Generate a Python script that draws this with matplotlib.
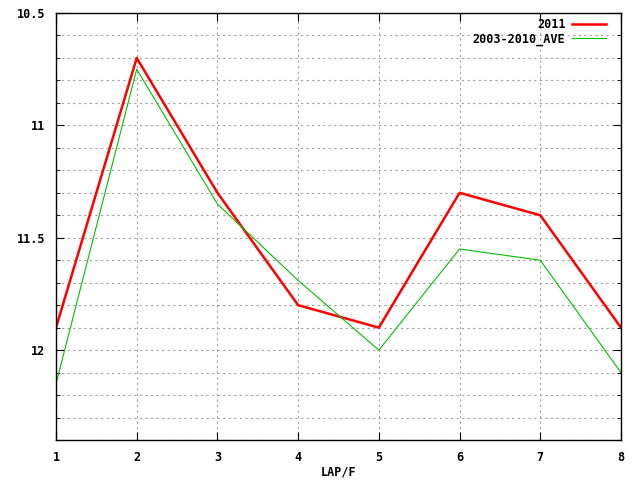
import matplotlib
matplotlib.use('Agg')
import matplotlib.pyplot as plt
import numpy as np

laps = [1, 2, 3, 4, 5, 6, 7, 8]
y2011 = [11.9, 10.7, 11.3, 11.8, 11.9, 11.3, 11.4, 11.9]
yave = [12.15, 10.75, 11.35, 11.69, 12.0, 11.55, 11.6, 12.1]
ymajor = [10.5, 11, 11.5, 12]
ylabels = ['10.5', '11', '11.5', '12']

plt.rcParams['font.family'] = 'DejaVu Sans Mono'
plt.rcParams['font.weight'] = 'bold'

fig = plt.figure(figsize=(6.4, 4.8), dpi=100)
ax = fig.add_axes([0.0875, 0.0833, 0.8828, 0.8896])

ax.plot(laps, y2011, color='#ff0000', lw=1.8, label='2011')
ax.plot(laps, yave, color='#00c000', lw=0.8, label='2003-2010_AVE')

ax.set_xlim(1, 8)
ax.set_ylim(12.4, 10.5)
ax.set_xticks(laps)
ax.set_yticks(ymajor)
ax.set_yticklabels(ylabels)
ax.set_yticks(np.arange(10.6, 12.4, 0.1), minor=True)

ax.grid(True, which='both', color='#a0a0a0', ls=(0, (2, 3)), lw=0.8)
ax.tick_params(which='both', direction='in', top=True, right=True,
               labelsize=8.5, pad=8)
ax.tick_params(which='major', length=6)
ax.tick_params(which='minor', length=3)
for s in ax.spines.values():
    s.set_linewidth(1.0)

ax.set_xlabel('LAP/F', fontsize=8.5, fontweight='bold', labelpad=1)

leg = ax.legend(loc='upper right', bbox_to_anchor=(0.981, 1.0),
                frameon=False, markerfirst=False,
                fontsize=8.5, handlelength=2.8, borderaxespad=0.1,
                borderpad=0.3, labelspacing=0.15, handletextpad=0.6)
for t in leg.get_texts():
    t.set_ha('right')

fig.savefig('out.png', dpi=100)
